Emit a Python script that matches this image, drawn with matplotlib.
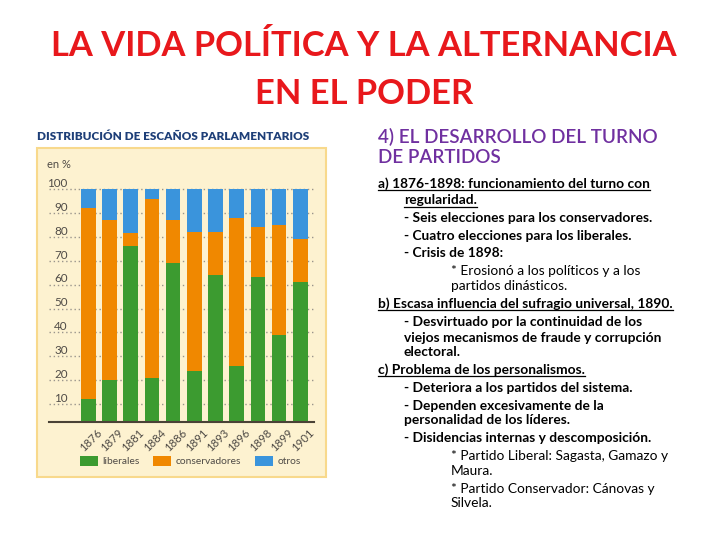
import matplotlib
matplotlib.use('Agg')
import matplotlib.pyplot as plt
from matplotlib.patches import Rectangle, Patch
from matplotlib.lines import Line2D
import matplotlib.transforms as mtransforms

W, H, DPI = 728, 546, 100

# ---------------- data ----------------
years = ['1876', '1879', '1881', '1884', '1886', '1891', '1893', '1896', '1898', '1899', '1901']
liberales = [12, 20, 76, 21, 69, 24, 64, 26, 63, 39, 61]
conservadores = [80, 67, 5.5, 75, 18, 58, 18, 62, 21, 46, 18]
otros = [8, 13, 18.5, 4, 13, 18, 18, 12, 16, 15, 21]
series_names = ['liberales', 'conservadores', 'otros']
yticks = [10, 20, 30, 40, 50, 60, 70, 80, 90, 100]

title_lines = ["LA VIDA POLÍTICA Y LA ALTERNANCIA", "EN EL PODER"]
chart_title = "DISTRIBUCIÓN DE ESCAÑOS PARLAMENTARIOS"
unit_label = "en %"
heading_lines = ["4) EL DESARROLLO DEL TURNO", "DE PARTIDOS"]
body_lines = [
    "a) 1876-1898: funcionamiento del turno con",
    "regularidad.",
    "- Seis elecciones para los conservadores.",
    "- Cuatro elecciones para los liberales.",
    "- Crisis de 1898:",
    "* Erosionó a los políticos y a los",
    "partidos dinásticos.",
    "b) Escasa influencia del sufragio universal, 1890.",
    "- Desvirtuado por la continuidad de los",
    "viejos mecanismos de fraude y corrupción",
    "electoral.",
    "c) Problema de los personalismos.",
    "- Deteriora a los partidos del sistema.",
    "- Dependen excesivamente de la",
    "personalidad de los líderes.",
    "- Disidencias internas y descomposición.",
    "* Partido Liberal: Sagasta, Gamazo y",
    "Maura.",
    "* Partido Conservador: Cánovas y",
    "Silvela.",
]

# ---------------- layout / styles ----------------
body_x = [378, 404, 404, 404, 404, 451, 451, 378, 404, 404, 404, 378, 404, 404, 404, 404, 451, 451, 451, 451]
body_y = [183, 200, 217.7, 235, 252.7, 270.7, 285.7, 303.3, 321.7, 337.3, 351.7, 369.3, 387.3, 405,
          419.3, 437.7, 455.7, 470.3, 488.3, 502.7]
body_bold = [True] * 5 + [False] * 2 + [True] * 9 + [False] * 4
body_under = [True, True] + [False] * 5 + [True] + [False] * 3 + [True] + [False] * 8

C_GREEN = '#3c9b30'
C_ORANGE = '#f08800'
C_BLUE = '#3a94dc'
C_RED = '#e8181c'
C_PURPLE = '#7030a0'
C_NAVY = '#1e3f78'
C_PANEL = '#fdf2d0'
C_PANEL_EDGE = '#f8d98c'
C_GRAYTXT = '#4f4b46'

FONT = ['Lato', 'DejaVu Sans']
plt.rcParams['font.family'] = FONT


def fx(x):
    return x / W


def fy(y):
    return 1 - y / H


fig = plt.figure(figsize=(W / DPI, H / DPI), dpi=DPI, facecolor='white')

# ---- slide title ----
fig.text(fx(364), fy(46), title_lines[0], color=C_RED, fontsize=24.8, fontweight='bold',
         ha='center', va='center')
fig.text(fx(364), fy(94), title_lines[1], color=C_RED, fontsize=24.8, fontweight='bold',
         ha='center', va='center')

# ---- chart panel ----
panel = Rectangle((fx(37), fy(477)), fx(326) - fx(37), fy(148) - fy(477), transform=fig.transFigure,
                  facecolor=C_PANEL, edgecolor=C_PANEL_EDGE, linewidth=1.5, zorder=-10)
fig.add_artist(panel)
fig.text(fx(37), fy(137), chart_title, color=C_NAVY, fontsize=8.5, fontweight='heavy',
         ha='left', va='center')
fig.text(fx(47), fy(164), unit_label, color=C_GRAYTXT, fontsize=8, ha='left', va='center')

ax_l, ax_r, ax_b, ax_t = 49, 314, 421.7, 179.4
ax = fig.add_axes([fx(ax_l), fy(ax_b), fx(ax_r) - fx(ax_l), fy(ax_t) - fy(ax_b)])
ax.set_zorder(5)
ax.patch.set_alpha(0)
x = list(range(len(years)))
bw = 0.68
bottom2 = liberales
bottom3 = [a + b for a, b in zip(liberales, conservadores)]
ax.bar(x, liberales, width=bw, color=C_GREEN, zorder=3, label=series_names[0])
ax.bar(x, conservadores, width=bw, bottom=bottom2, color=C_ORANGE, zorder=3, label=series_names[1])
ax.bar(x, otros, width=bw, bottom=bottom3, color=C_BLUE, zorder=3, label=series_names[2])
ax.set_xlim(-1.854, 10.646)
ax.set_ylim(2.7, 104)
ax.set_yticks(yticks)
ax.yaxis.grid(True, linestyle=(0, (1, 2)), color='#9a958c', linewidth=1.0, zorder=1)
ax.set_axisbelow(True)
ax.tick_params(axis='y', length=0, labelleft=False)
for v in yticks:
    ax.text(0.07, v + 0.9, str(v), transform=mtransforms.blended_transform_factory(ax.transAxes, ax.transData),
            ha='right', va='baseline', fontsize=8.4, color=C_GRAYTXT)
for s in ['top', 'right', 'left']:
    ax.spines[s].set_visible(False)
ax.spines['bottom'].set_color('#4a4236')
ax.spines['bottom'].set_linewidth(1.5)
ax.spines['bottom'].set_zorder(4)
ax.set_xticks(x)
ax.set_xticklabels(years, rotation=45, ha='right', va='top', rotation_mode='anchor',
                   fontsize=8.2, color=C_GRAYTXT)
ax.tick_params(axis='x', length=0, pad=4)
off = mtransforms.ScaledTranslation(8 / DPI, 0, fig.dpi_scale_trans)
for lab in ax.get_xticklabels():
    lab.set_transform(lab.get_transform() + off)

handles = [Patch(facecolor=c) for c in (C_GREEN, C_ORANGE, C_BLUE)]
fig.legend(handles, series_names, loc='center left', bbox_to_anchor=(fx(80), fy(461)), ncol=3,
           frameon=False, fontsize=7.4, handlelength=1.75, handleheight=1.2, handletextpad=0.45,
           columnspacing=1.3, borderpad=0, borderaxespad=0, labelcolor=C_GRAYTXT)

# ---- right text ----
fig.text(fx(378), fy(137), heading_lines[0], color=C_PURPLE, fontsize=13.6, fontweight='semibold',
         ha='left', va='center')
fig.text(fx(378), fy(157.5), heading_lines[1], color=C_PURPLE, fontsize=13.6, fontweight='semibold',
         ha='left', va='center')

texts = []
for s, xx, yy, b in zip(body_lines, body_x, body_y, body_bold):
    t = fig.text(fx(xx), fy(yy + 4.5), s, color='black', fontsize=9.95,
                 fontweight='bold' if b else 'normal', ha='left', va='baseline')
    texts.append(t)

fig.canvas.draw()
r = fig.canvas.get_renderer()
for t, u, yy in zip(texts, body_under, body_y):
    if u:
        bb = t.get_window_extent(r)
        yline = fy(yy + 6.5)
        fig.add_artist(Line2D([bb.x0 / W, bb.x1 / W], [yline, yline], transform=fig.transFigure,
                              color='black', linewidth=0.9))

fig.savefig('out.png', dpi=DPI, facecolor='white')
